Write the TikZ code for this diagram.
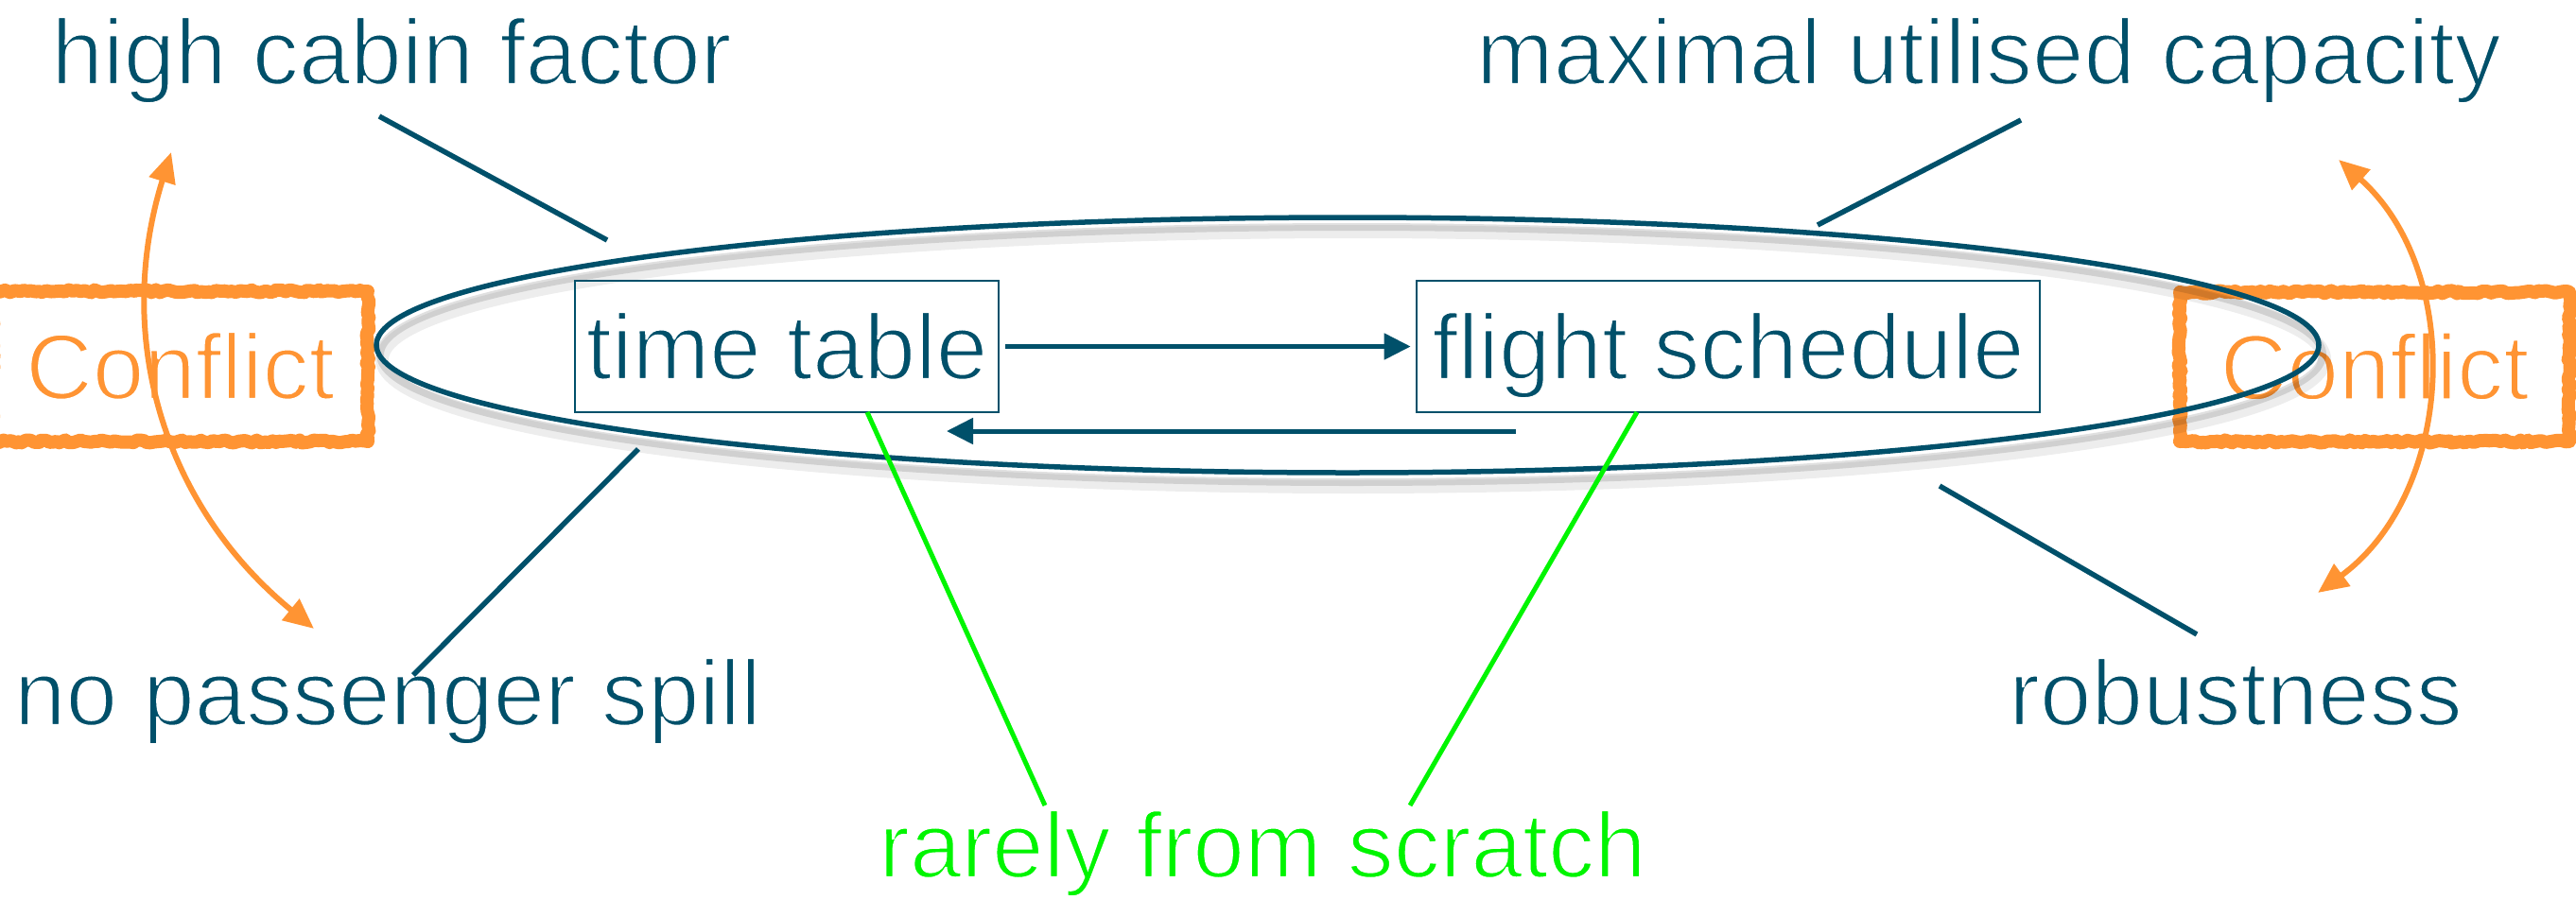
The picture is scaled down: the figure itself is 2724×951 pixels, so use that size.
\documentclass[tikz,border=0pt]{standalone}
\usepackage{fontspec}
\setmainfont{Liberation Sans}
\usetikzlibrary{arrows.meta,shapes.geometric,decorations.pathmorphing}
\definecolor{deepteal}{RGB}{0,80,106}
\definecolor{conforange}{RGB}{255,148,51}
\definecolor{brightgreen}{RGB}{0,245,0}
% thin the glyph strokes with a white outline (fill, then stroke)
\newcommand\slimtext[1]{\special{pdf:literal direct 2 Tr 2.4 w 1 1 1 RG}#1\special{pdf:literal direct 0 Tr}}
\begin{document}
\begin{tikzpicture}[x=1pt,y=-1pt,
  bigtext/.style={font=\fontsize{98}{112}\selectfont, inner sep=0pt},
  lbl/.style={bigtext, text=deepteal, anchor=base},
  planbox/.style={bigtext, draw=deepteal, line width=2.6pt, text=deepteal,
    minimum height=139pt, text height=69pt, text depth=0pt},
  conflictbox/.style={bigtext, draw=conforange, text=conforange, line width=14pt,
    text height=69pt, text depth=0pt, line join=round,
    decorate, decoration={random steps, segment length=4pt, amplitude=1.6pt}},
  tie/.style={draw=deepteal, line width=5.5pt},
  flow/.style={draw=deepteal, line width=5pt, -{Triangle[length=28pt,width=27pt]}},
  greentie/.style={draw=brightgreen, line width=5pt},
  swing/.style={draw=conforange, line width=6pt,
    {Triangle[length=32pt,width=28pt]}-{Triangle[length=32pt,width=28pt]}},
]
\useasboundingbox (0,0) rectangle (2724,951);

% conflict boxes
\node[conflictbox, minimum width=397pt, minimum height=159pt] (cl) at (190.5,387.5) {\slimtext{Conflict}};
\node[conflictbox, minimum width=412pt, minimum height=158pt] (cr) at (2511,388) {\slimtext{Conflict}};

% soft shadow under the planning ellipse
\draw[black, opacity=0.07, line width=14pt] (1431,380) ellipse[x radius=1027, y radius=135];
\draw[black, opacity=0.12, line width=8pt] (1429,375) ellipse[x radius=1027, y radius=135];
% planning ellipse
\node[draw=deepteal, line width=5.5pt, ellipse, inner sep=0pt,
      minimum width=2054pt, minimum height=270pt] (plan) at (1425,365) {};

% the two planning stages
\node[planbox, minimum width=448pt] (tt) at (832,366.5) {\slimtext{time table}};
\node[planbox, minimum width=659pt] (fs) at (1827.5,366.5) {\slimtext{flight schedule}};
\draw[flow, shorten <=6pt, shorten >=5pt] (tt.east) -- (fs.west);
\coordinate (back1) at (1603,456);
\coordinate (back2) at (1001,456);
\draw[flow] (back1) -- (back2);

% goals around the ellipse
\node[lbl] (hcf) at (414,89) {\slimtext{high cabin factor}};
\node[lbl] (muc) at (2103,89) {\slimtext{maximal utilised capacity}};
\node[lbl] (nps) at (410,767) {\slimtext{no passenger spill}};
\node[lbl] (rob) at (2364,767) {\slimtext{robustness}};

\coordinate (hcfA) at (401,123);  \coordinate (hcfB) at (642,254);
\coordinate (mucA) at (2137,127); \coordinate (mucB) at (1922,238);
\coordinate (npsA) at (675,475);  \coordinate (npsB) at (437,714);
\coordinate (robA) at (2051,514); \coordinate (robB) at (2323,671);
\draw[tie] (hcfA) -- (hcfB);
\draw[tie] (mucA) -- (mucB);
\draw[tie] (npsA) -- (npsB);
\draw[tie] (robA) -- (robB);

% rarely from scratch
\node[bigtext, text=brightgreen, anchor=base] (rfs) at (1335,928) {\slimtext{rarely from scratch}};
\coordinate (gA) at (917,436);  \coordinate (gB) at (1105,852);
\coordinate (gC) at (1731,436); \coordinate (gD) at (1491,852);
\draw[greentie] (gA) -- (gB);
\draw[greentie] (gC) -- (gD);

% conflict arrows
\coordinate (l1) at (181,161); \coordinate (l2) at (332,665);
\coordinate (r1) at (2473,169); \coordinate (r2) at (2451,627);
\draw[swing] (l1) to[bend right=34] (l2);
\draw[swing] (r1) to[bend left=51] (r2);
\end{tikzpicture}
\end{document}
